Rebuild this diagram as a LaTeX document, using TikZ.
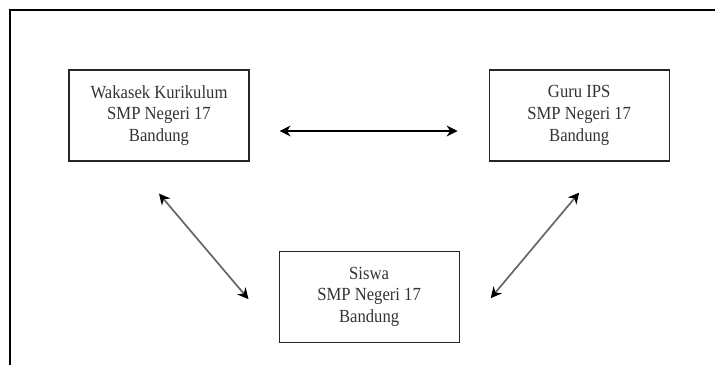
\documentclass[tikz,border=0pt]{standalone}
\usepackage{fontspec}
\setmainfont{Liberation Serif}[FakeStretch=0.9]
\usetikzlibrary{arrows.meta,positioning,calc}
\tikzset{box/.style={draw=black!85, line width=1.2pt, minimum width=180pt, minimum height=91pt, align=center, text=black!80, font=\fontsize{18.5}{21.7}\selectfont},
  link/.style={{Stealth[length=11pt,width=11pt]}-{Stealth[length=11pt,width=11pt]}, line width=1.3pt},
  tilt/.style={{Stealth[length=11pt,width=11pt,color=black]}-{Stealth[length=11pt,width=11pt,color=black]}, line width=1.7pt, draw=black!60}}

\begin{document}
\begin{tikzpicture}[x=1pt,y=-1pt]
    \useasboundingbox (0,0) rectangle (715,365);
    \coordinate (tl) at (10,10);
    \coordinate (tr) at (715,10);
    \coordinate (bl) at (10,365);
    \draw[line width=1.2pt] (tr) -- (tl) -- (bl);
    \node[box] (wakasek) at (159,115.5) {Wakasek Kurikulum\\SMP Negeri 17\\Bandung};
    \node[box, right=239pt of wakasek] (guru) {Guru IPS\\SMP Negeri 17\\Bandung};
    \coordinate (mid) at ($(wakasek.south)!0.5!(guru.south)$);
    \node[box, below=89pt of mid] (siswa) {Siswa\\SMP Negeri 17\\Bandung};
    \draw[link] ([xshift=30pt,yshift=-15.5pt]wakasek.east) -- ([xshift=-31pt,yshift=-15.5pt]guru.west);
    \draw[tilt] ([yshift=-32pt]wakasek.south) -- ([xshift=-30pt,yshift=-2.5pt]siswa.west);
    \draw[tilt] ([yshift=-31pt]guru.south) -- ([xshift=31pt,yshift=-1.5pt]siswa.east);
  \end{tikzpicture}
\end{document}
